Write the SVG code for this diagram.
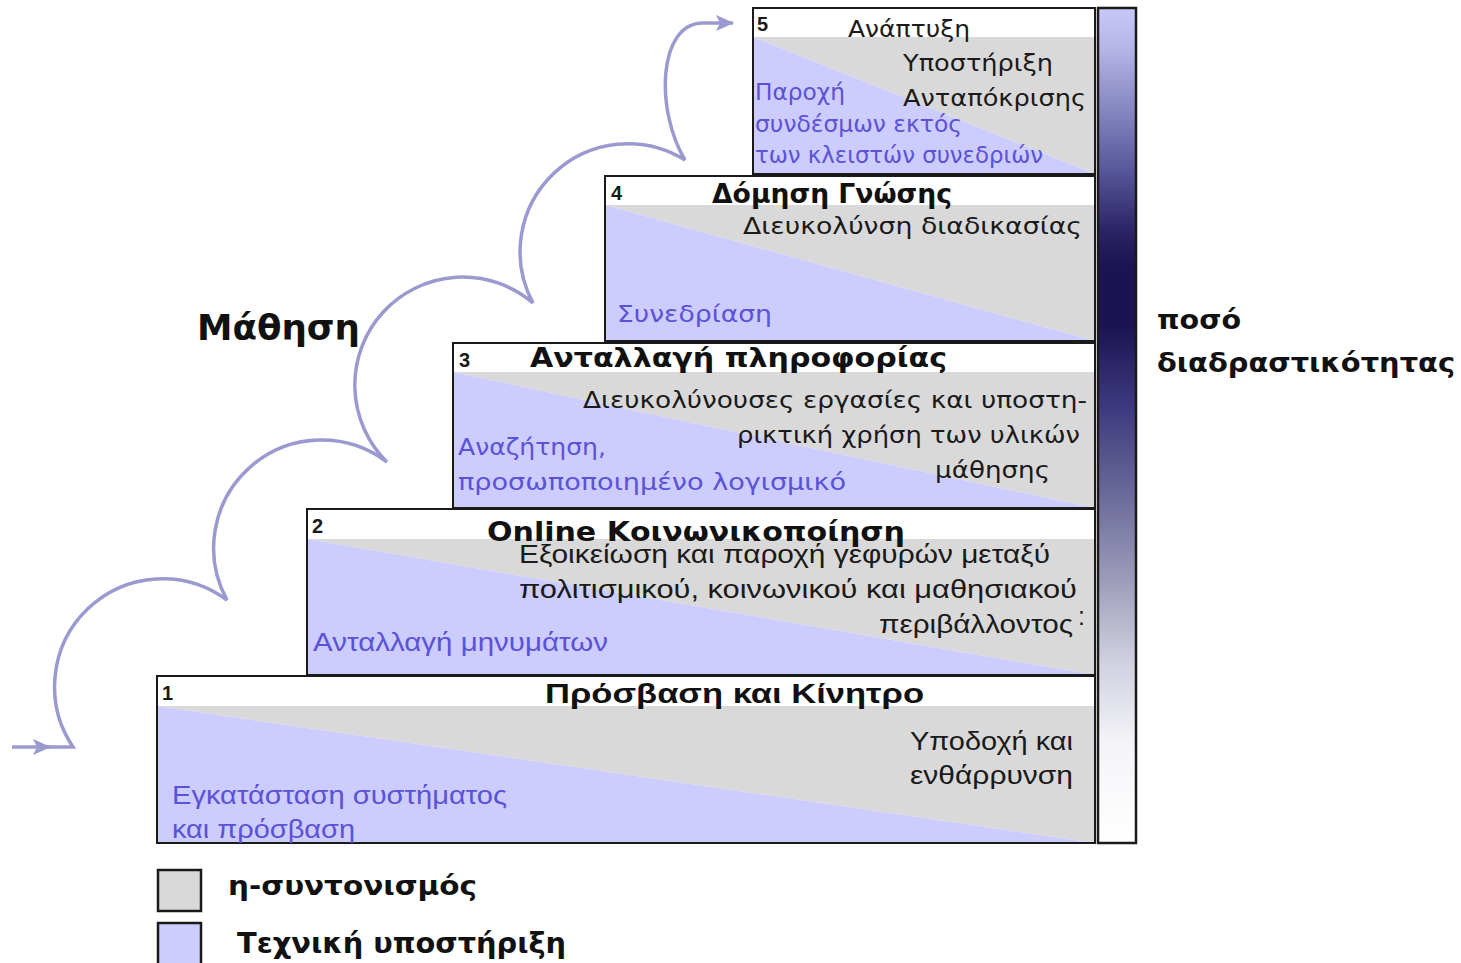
<svg xmlns="http://www.w3.org/2000/svg" width="1461" height="963" viewBox="0 0 1461 963">
<style>
.frame{fill:none;stroke:#1a1a1a;stroke-width:2}
.hdr{fill:#ffffff}
.gray{fill:#d9d9d9}
.blue{fill:#ccccff}
.num{font-family:"Liberation Sans",Arial,sans-serif;font-weight:bold;font-size:20px;fill:#1a1a1a}
.title{font-family:"DejaVu Sans",Verdana,sans-serif;font-weight:bold;font-size:26px;fill:#111}
.titleN{font-family:"Liberation Sans",Arial,sans-serif;font-weight:bold;font-size:27px;fill:#111}
.txt{font-family:"DejaVu Sans",Verdana,sans-serif;font-size:23px;fill:#1a1a1a}
.txtB{font-family:"DejaVu Sans",Verdana,sans-serif;font-size:23px;fill:#5b52d6}
.nar{font-family:"Liberation Sans",Arial,sans-serif;font-size:25px;fill:#1a1a1a}
.narB{font-family:"Liberation Sans",Arial,sans-serif;font-size:25px;fill:#5b52d6}
.big{font-family:"DejaVu Sans",Verdana,sans-serif;font-weight:bold;fill:#111}
.curve{fill:none;stroke:#9a9ad0;stroke-width:3.5}
</style>
<defs>
<marker id="ah" markerUnits="userSpaceOnUse" markerWidth="20" markerHeight="18" refX="17" refY="9" orient="auto">
<path d="M0,1 L18,9 L0,17 L4,9 z" fill="#9a9ad0"/>
</marker>
<linearGradient id="bar" x1="0" y1="0" x2="0" y2="1">
<stop offset="0" stop-color="#c8c8f8"/>
<stop offset="0.05" stop-color="#b4b4e6"/>
<stop offset="0.19" stop-color="#5a5a9c"/>
<stop offset="0.27" stop-color="#2a2262"/>
<stop offset="0.31" stop-color="#1c1452"/>
<stop offset="0.38" stop-color="#1c1452"/>
<stop offset="0.48" stop-color="#3e3a7e"/>
<stop offset="0.58" stop-color="#6a6898"/>
<stop offset="0.68" stop-color="#9a9ab8"/>
<stop offset="0.78" stop-color="#cfcfdf"/>
<stop offset="0.88" stop-color="#f4f4f8"/>
<stop offset="1" stop-color="#ffffff"/>
</linearGradient>
</defs>
<rect width="1461" height="963" fill="#ffffff"/>

<g id="connectors">
<path class="curve" d="M12,747 L50,747" marker-end="url(#ah)"/>
<path class="curve" d="M46,747 L73,747 A108,108 0 0 1 227,600 A108,108 0 0 1 387,462 A108,108 0 0 1 533,303 A108,108 0 0 1 685,160 C655,110 658,23 703,23 L733,23" marker-end="url(#ah)"/>
</g>

<g id="step5">
<rect class="hdr" x="753" y="8" width="342" height="166"/>
<polygon class="gray" points="753,37 1095,37 1095,174"/>
<polygon class="blue" points="753,37 1095,174 753,174"/>
<rect class="frame" x="753" y="8" width="342" height="166"/>
<text class="num" x="757" y="31">5</text>
<text class="txt" x="848" y="37" textLength="122" lengthAdjust="spacingAndGlyphs">Ανάπτυξη</text>
<text class="txt" x="903" y="71" textLength="150" lengthAdjust="spacingAndGlyphs">Υποστήριξη</text>
<text class="txt" x="903" y="106" textLength="183" lengthAdjust="spacingAndGlyphs">Ανταπόκρισης</text>
<text class="txtB" x="755" y="100" textLength="90" lengthAdjust="spacingAndGlyphs">Παροχή</text>
<text class="txtB" x="755" y="132" textLength="207" lengthAdjust="spacingAndGlyphs">συνδέσμων εκτός</text>
<text class="txtB" x="755" y="163" textLength="288" lengthAdjust="spacingAndGlyphs">των κλειστών συνεδριών</text>
</g>

<g id="step4">
<rect class="hdr" x="605" y="176" width="490" height="165"/>
<polygon class="gray" points="605,205 1095,205 1095,341"/>
<polygon class="blue" points="605,205 1095,341 605,341"/>
<rect class="frame" x="605" y="176" width="490" height="165"/>
<text class="num" x="611" y="200">4</text>
<text class="title" x="712" y="203" textLength="240" lengthAdjust="spacingAndGlyphs">Δόμηση Γνώσης</text>
<text class="txt" x="743" y="234" textLength="339" lengthAdjust="spacingAndGlyphs">Διευκολύνση διαδικασίας</text>
<text class="txtB" x="617" y="322" textLength="155" lengthAdjust="spacingAndGlyphs">Συνεδρίαση</text>
</g>

<g id="step3">
<rect class="hdr" x="453" y="343" width="642" height="165"/>
<polygon class="gray" points="453,372 1095,372 1095,508"/>
<polygon class="blue" points="453,372 1095,508 453,508"/>
<rect class="frame" x="453" y="343" width="642" height="165"/>
<text class="num" x="459" y="367">3</text>
<text class="title" x="530" y="367" textLength="417" lengthAdjust="spacingAndGlyphs">Ανταλλαγή πληροφορίας</text>
<text class="txt" x="583" y="408" textLength="504" lengthAdjust="spacingAndGlyphs">Διευκολύνουσες εργασίες και υποστη-</text>
<text class="txt" x="737" y="443" textLength="343" lengthAdjust="spacingAndGlyphs">ρικτική χρήση των υλικών</text>
<text class="txt" x="935" y="478" textLength="115" lengthAdjust="spacingAndGlyphs">μάθησης</text>
<text class="txtB" x="458" y="455" textLength="148" lengthAdjust="spacingAndGlyphs">Αναζήτηση,</text>
<text class="txtB" x="458" y="490" textLength="388" lengthAdjust="spacingAndGlyphs">προσωποποιημένο λογισμικό</text>
</g>

<g id="step2">
<rect class="hdr" x="307" y="509" width="788" height="166"/>
<polygon class="gray" points="307,539 1095,539 1095,675"/>
<polygon class="blue" points="307,539 1095,675 307,675"/>
<rect class="frame" x="307" y="509" width="788" height="166"/>
<text class="num" x="312" y="533">2</text>
<text class="title" x="487" y="541" textLength="418" lengthAdjust="spacingAndGlyphs">Online Κοινωνικοποίηση</text>
<text class="nar" x="519" y="563" textLength="531" lengthAdjust="spacingAndGlyphs">Εξοικείωση και παροχή γεφυρών μεταξύ</text>
<text class="nar" x="519" y="598" textLength="558" lengthAdjust="spacingAndGlyphs">πολιτισμικού, κοινωνικού και μαθησιακού</text>
<text class="nar" x="879" y="633" textLength="194" lengthAdjust="spacingAndGlyphs">περιβάλλοντος</text>
<text class="nar" x="1078" y="625" font-size="12">:</text>
<text class="narB" x="313" y="651" textLength="295" lengthAdjust="spacingAndGlyphs">Ανταλλαγή μηνυμάτων</text>
</g>

<g id="step1">
<rect class="hdr" x="157" y="676" width="938" height="167"/>
<polygon class="gray" points="157,706 1095,706 1095,843"/>
<polygon class="blue" points="157,706 1095,843 157,843"/>
<rect class="frame" x="157" y="676" width="938" height="167"/>
<text class="num" x="162" y="700">1</text>
<text class="titleN" x="545" y="703" textLength="379" lengthAdjust="spacingAndGlyphs">Πρόσβαση και Κίνητρο</text>
<text class="nar" x="910" y="750" textLength="163" lengthAdjust="spacingAndGlyphs">Υποδοχή και</text>
<text class="nar" x="910" y="784" textLength="163" lengthAdjust="spacingAndGlyphs">ενθάρρυνση</text>
<text class="narB" x="172" y="804" textLength="335" lengthAdjust="spacingAndGlyphs">Εγκατάσταση συστήματος</text>
<text class="narB" x="172" y="838" textLength="183" lengthAdjust="spacingAndGlyphs">και πρόσβαση</text>
</g>

<g id="interactivity-bar">
<rect x="1098" y="8" width="38" height="835" fill="url(#bar)" stroke="#1a1a1a" stroke-width="2.5"/>
<text class="big" x="1157" y="329" font-size="27" textLength="84" lengthAdjust="spacingAndGlyphs">ποσό</text>
<text class="big" x="1157" y="372" font-size="27" textLength="298" lengthAdjust="spacingAndGlyphs">διαδραστικότητας</text>
</g>

<g id="learning-label">
<text class="big" x="197" y="340" font-size="35" textLength="163" lengthAdjust="spacingAndGlyphs">Μάθηση</text>
</g>

<g id="legend">
<rect x="158" y="870" width="43" height="41" fill="#d9d9d9" stroke="#1a1a1a" stroke-width="2.5"/>
<rect x="158" y="923" width="43" height="45" fill="#ccccff" stroke="#1a1a1a" stroke-width="2.5"/>
<text class="big" x="228" y="895" font-size="27" textLength="249" lengthAdjust="spacingAndGlyphs">η-συντονισμός</text>
<text class="big" x="237" y="953" font-size="28" textLength="329" lengthAdjust="spacingAndGlyphs">Τεχνική υποστήριξη</text>
</g>
</svg>
